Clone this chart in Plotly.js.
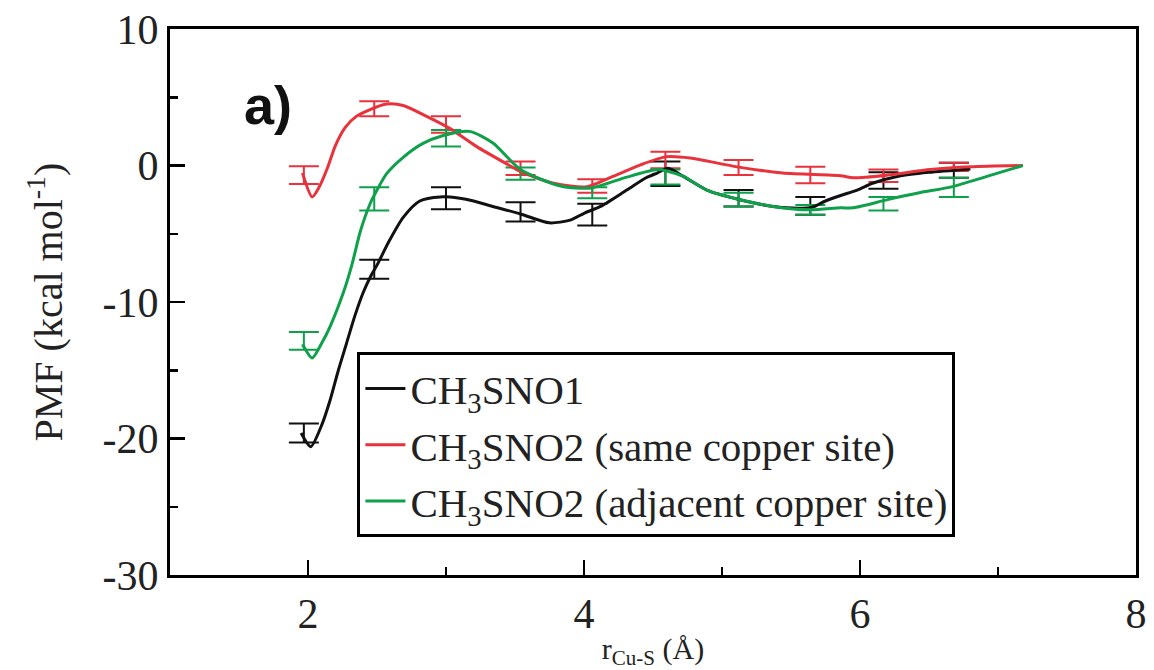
<!DOCTYPE html>
<html>
<head>
<meta charset="utf-8">
<script src="https://cdn.plot.ly/plotly-3.0.1.min.js"></script>
<style>html,body{margin:0;padding:0;background:#fff;}#chart{width:1154px;height:670px;}</style>
</head>
<body>
<div id="chart"></div>
<script>
// Curves
var blackX = [1.95,2.02,2.1,2.16,2.22,2.28,2.34,2.40,2.46,2.5,2.59,2.69,2.81,2.96,3.1,3.2,3.34,3.54,3.75,3.9,4.0,4.12,4.31,4.45,4.53,4.61,4.72,4.89,5.11,5.37,5.64,5.75,5.86,5.98,6.09,6.27,6.5,6.8];
var blackY = [-19.6,-20.6,-19.0,-17.2,-15.0,-13.0,-11.0,-9.3,-8.0,-7.3,-5.5,-3.8,-2.6,-2.3,-2.4,-2.6,-3.0,-3.55,-4.2,-4.0,-3.5,-3.0,-1.8,-0.9,-0.55,-0.2,-0.8,-1.8,-2.45,-3.0,-3.1,-2.6,-2.2,-1.8,-1.3,-0.8,-0.5,-0.25];

var redX = [1.96,2.03,2.08,2.14,2.2,2.27,2.35,2.45,2.57,2.69,2.86,3.03,3.22,3.46,3.54,3.78,4.02,4.21,4.41,4.6,4.77,5.11,5.44,5.86,5.95,6.2,6.51,6.8,7.18];
var redY = [-0.55,-2.3,-1.6,-0.2,1.5,2.8,3.6,4.1,4.5,4.4,3.6,2.7,1.4,0.0,-0.45,-1.3,-1.55,-0.8,0.05,0.65,0.55,-0.1,-0.55,-0.75,-0.9,-0.7,-0.3,-0.1,0.0];

var greenX = [1.96,2.03,2.1,2.16,2.26,2.32,2.38,2.45,2.5,2.57,2.69,2.83,2.98,3.17,3.34,3.54,3.83,4.05,4.31,4.53,4.6,4.72,4.89,5.11,5.37,5.64,5.86,5.95,6.2,6.43,6.67,6.92,7.18];
var greenY = [-13.1,-14.1,-13.0,-11.8,-9.2,-7.2,-4.8,-2.8,-1.8,-0.6,0.6,1.6,2.2,2.5,1.65,-0.3,-1.5,-1.65,-0.85,-0.3,-0.4,-0.8,-1.8,-2.45,-3.0,-3.25,-3.1,-3.1,-2.5,-2.0,-1.55,-0.8,0.0];

// Error bar points
var errX = [1.97,2.48,3.0,3.54,4.06,4.59,5.12,5.64,6.17,6.68];
var blackErrY = [-19.6,-7.6,-2.4,-3.4,-3.6,-0.6,-2.4,-2.95,-1.1,-0.35];
var blackErr  = [0.7,0.7,0.8,0.7,0.8,0.9,0.6,0.65,0.6,0.55];
var redErrY = [-0.7,4.15,3.0,-0.2,-1.5,0.4,-0.15,-0.7,-0.75,-0.1];
var redErr  = [0.65,0.55,0.6,0.5,0.5,0.6,0.55,0.6,0.45,0.3];
var greenErrY = [-12.85,-2.45,2.0,-0.6,-2.0,-0.85,-2.5,-3.25,-2.8,-1.6];
var greenErr  = [0.65,0.85,0.6,0.45,0.4,0.55,0.5,0.35,0.5,0.7];

// Tick labels
var xTickVals = [2,4,6,8];
var xTickText = ['2','4','6','8'];
var yTickVals = [10,0,-10,-20,-30];
var yTickText = ['10','0','-10','-20','-30'];

var seriesNames = ['CH<sub>3</sub>SNO1','CH<sub>3</sub>SNO2 (same copper site)','CH<sub>3</sub>SNO2 (adjacent copper site)'];
var colors = ['#111111','#e8323c','#0ea04a'];

function lineTrace(x,y,name,color){
  return {x:x,y:y,name:name,type:'scatter',mode:'lines',line:{color:color,width:3,shape:'spline',smoothing:0.7}};
}
function errTrace(x,y,e,color){
  return {x:x,y:y,type:'scatter',mode:'markers',marker:{size:1,color:color,opacity:0},showlegend:false,hoverinfo:'skip',
    error_y:{type:'data',array:e,visible:true,color:color,thickness:2,width:15}};
}

var data = [
  errTrace(errX,blackErrY,blackErr,colors[0]),
  errTrace(errX,redErrY,redErr,colors[1]),
  errTrace(errX,greenErrY,greenErr,colors[2]),
  lineTrace(blackX,blackY,seriesNames[0],colors[0]),
  lineTrace(redX,redY,seriesNames[1],colors[1]),
  lineTrace(greenX,greenY,seriesNames[2],colors[2])
];

var serif = 'Liberation Serif, Times New Roman, serif';
var layout = {
  width:1154, height:670,
  margin:{l:170,r:18,t:29,b:95},
  paper_bgcolor:'#fff', plot_bgcolor:'#fff',
  showlegend:true,
  legend:{x:0.194,y:0.408,xanchor:'left',yanchor:'top',bgcolor:'#fff',bordercolor:'#000',borderwidth:3,
    font:{family:serif,size:41,color:'#222'},tracegroupgap:0,itemwidth:40},
  xaxis:{range:[1,8],tickmode:'array',tickvals:xTickVals,ticktext:xTickText,ticks:'inside',ticklen:15,tickwidth:2.5,tickcolor:'#000',
    showline:true,linewidth:3,linecolor:'#000',mirror:true,showgrid:false,zeroline:false,
    minor:{tickmode:'array',tickvals:[3,5,7],ticks:'inside',ticklen:8,tickwidth:2.5,tickcolor:'#000',showgrid:false},
    tickfont:{family:serif,size:42,color:'#222'},
    title:{text:'r<sub>Cu-S</sub> (Å)',font:{family:serif,size:30,color:'#222'},standoff:6}},
  yaxis:{range:[-30,10],tickmode:'array',tickvals:yTickVals,ticktext:yTickText,ticks:'inside',ticklen:15,tickwidth:2.5,tickcolor:'#000',
    showline:true,linewidth:3,linecolor:'#000',mirror:true,showgrid:false,zeroline:false,
    minor:{tickmode:'array',tickvals:[5,-5,-15,-25],ticks:'inside',ticklen:8,tickwidth:2.5,tickcolor:'#000',showgrid:false},
    tickfont:{family:serif,size:42,color:'#222'},
    title:{text:'PMF (kcal mol<sup>-1</sup>)',font:{family:serif,size:40,color:'#222'},standoff:28}},
  annotations:[{x:1.71,y:4.4,xref:'x',yref:'y',text:'<b>a)</b>',showarrow:false,
    font:{family:'Liberation Sans, Arial, sans-serif',size:54,color:'#111'}}]
};

Plotly.newPlot('chart',data,layout,{displayModeBar:false,staticPlot:true});
</script>
</body>
</html>
